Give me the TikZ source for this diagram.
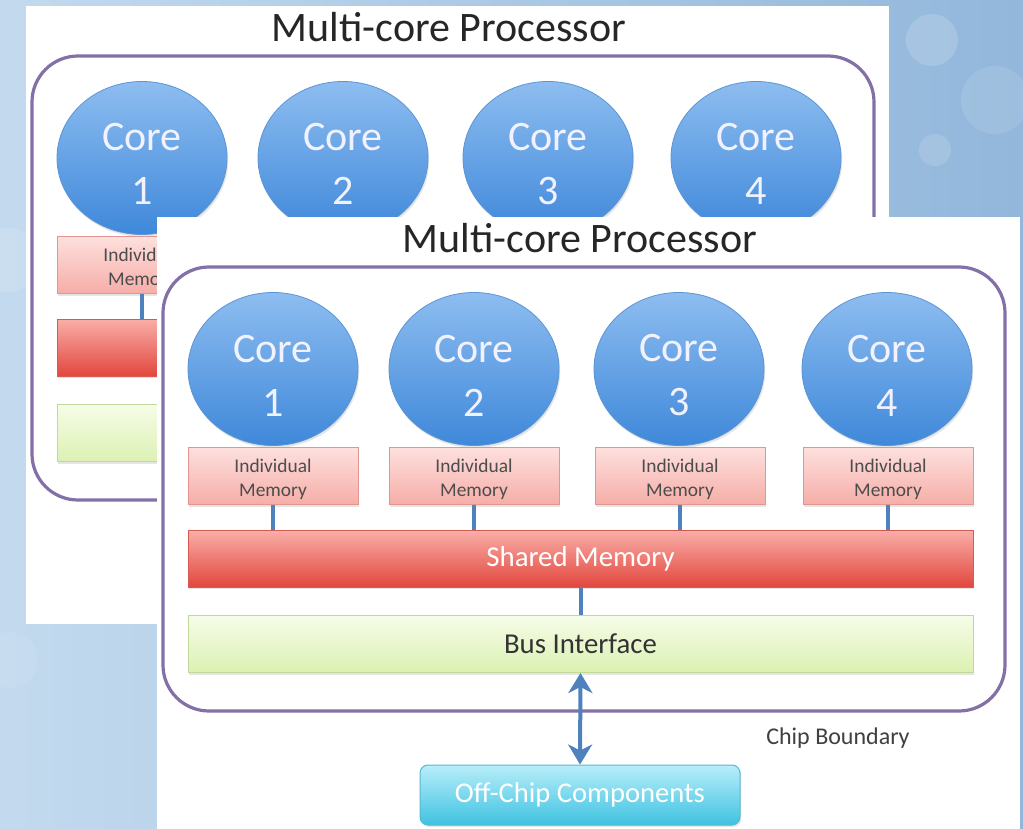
\documentclass[tikz,border=0pt]{standalone}
\usepackage{fontspec}
\setmainfont{Carlito}
\usetikzlibrary{arrows.meta,shapes.geometric,shadows}
\definecolor{skyleft}{HTML}{C3DAEE}
\definecolor{skyright}{HTML}{92B7DB}
\definecolor{coretop}{HTML}{8DBDF0}
\definecolor{corebot}{HTML}{3F88DA}
\definecolor{coreline}{HTML}{5C95D6}
\definecolor{memtop}{HTML}{FDE0DD}
\definecolor{membot}{HTML}{F6ADA8}
\definecolor{memline}{HTML}{E39591}
\definecolor{shtop}{HTML}{F9AFA8}
\definecolor{shbot}{HTML}{E2473E}
\definecolor{shline}{HTML}{D65A52}
\definecolor{bustop}{HTML}{F6FCE8}
\definecolor{busbot}{HTML}{DCF1B2}
\definecolor{busline}{HTML}{C0D99A}
\definecolor{offtop}{HTML}{B8EEF9}
\definecolor{offbot}{HTML}{3FC2E1}
\definecolor{offline}{HTML}{58B8D2}
\definecolor{edgepurple}{HTML}{8470A8}
\definecolor{wireblue}{HTML}{4F81BD}

\begin{document}
\begin{tikzpicture}[x=0.5pt,y=-0.5pt,
  headline/.style={text=black!85,font=\fontsize{21}{25}\selectfont},
  corenode/.style={ellipse,minimum width=85pt,minimum height=76.5pt,inner sep=0pt,
    top color=coretop,bottom color=corebot,draw=coreline,line width=0.4pt,
    drop shadow={shadow xshift=0.6pt,shadow yshift=-1.2pt,opacity=0.2},
    text=white!95!blue,align=center,text height=47pt,font=\fontsize{21}{27}\selectfont},
  memnode/.style={rectangle,minimum width=85pt,minimum height=28.5pt,inner sep=0pt,
    top color=memtop,bottom color=membot,draw=memline,line width=0.5pt,
    drop shadow={shadow xshift=0.6pt,shadow yshift=-1pt,opacity=0.2},
    text=black!70,align=center,text height=22.5pt,font=\fontsize{9.7}{12}\selectfont},
  sharednode/.style={rectangle,minimum width=392.5pt,minimum height=28.5pt,inner sep=0pt,
    top color=shtop,bottom color=shbot,draw=shline,line width=0.5pt,
    drop shadow={shadow xshift=0.6pt,shadow yshift=-1pt,opacity=0.2},
    text=white,font=\fontsize{14.4}{17}\selectfont},
  busnode/.style={rectangle,minimum width=392.5pt,minimum height=28.5pt,inner sep=0pt,
    top color=bustop,bottom color=busbot,draw=busline,line width=0.5pt,
    drop shadow={shadow xshift=0.6pt,shadow yshift=-1pt,opacity=0.2},
    text=black!80,font=\fontsize{14.4}{17}\selectfont},
  offnode/.style={rectangle,rounded corners=4pt,minimum width=160pt,minimum height=30pt,inner sep=0pt,
    top color=offtop,bottom color=offbot,draw=offline,line width=0.5pt,
    drop shadow={shadow xshift=0.6pt,shadow yshift=-1pt,opacity=0.2},
    text=white,font=\fontsize{14.3}{17}\selectfont},
  chipedge/.style={rectangle,rounded corners=23pt,minimum width=421pt,minimum height=222pt,
    draw=edgepurple,line width=1.6pt,inner sep=0pt},
  boundlabel/.style={text=black!75,font=\fontsize{12}{14}\selectfont},
  wire/.style={draw=wireblue,line width=2pt},
  biarrow/.style={wire,{Stealth[length=10pt,width=12pt,inset=3pt]}-{Stealth[length=10pt,width=12pt,inset=3pt]}}]
\useasboundingbox (0,0) rectangle (1023,829);
% backdrop
\shade[left color=skyleft,right color=skyright] (0,0) rectangle (1023,829);
\fill[white,opacity=0.16] (932,40) circle (13pt);
\fill[white,opacity=0.1] (995,100) circle (17pt);
\fill[white,opacity=0.14] (935,150) circle (8pt);
\fill[white,opacity=0.12] (8,260) circle (16pt);
\fill[white,opacity=0.08] (10,660) circle (14pt);

% slide behind (mostly hidden)
\begin{scope}[shift={(-131,-211)},name prefix=back-]
\fill[white] (157,217) rectangle (1020,835);
\node[headline] (heading) at (580,238) {Multi-core Processor};
\node[chipedge] (boundary) at (584,489) {};
\node[corenode] (core1) at (273,369) {Core\\1};
\node[corenode] (core2) at (474,369) {Core\\2};
\node[corenode] (core3) at (679,369) {Core\\3};
\node[corenode] (core4) at (887,369) {Core\\4};
\node[memnode] (mem1) at (273,476) {Individual\\Memory};
\node[sharednode] (shared) at (580.5,558.5) {};
\node[busnode] (bus) at (580.5,644) {};
\draw[wire] (mem1.south) -- (mem1.south |- shared.north);
\end{scope}

% slide in front
\fill[white] (157,217) rectangle (1020,835);
\node[headline] (heading) at (580,238) {Multi-core Processor};
\node[chipedge] (boundary) at (584,489) {};
\node[corenode] (core1) at (273,369) {Core\\1};
\node[corenode] (core2) at (474,369) {Core\\2};
\node[corenode] (core3) at (679,369) {Core\\3};
\node[corenode] (core4) at (887,369) {Core\\4};
\node[memnode] (mem1) at (273,476) {Individual\\Memory};
\node[memnode] (mem2) at (474,476) {Individual\\Memory};
\node[memnode] (mem3) at (680,476) {Individual\\Memory};
\node[memnode] (mem4) at (888,476) {Individual\\Memory};
\node[sharednode] (shared) at (580.5,558.5) {Shared Memory};
\node[busnode] (bus) at (580.5,644) {Bus Interface};
\node[offnode] (offchip) at (580,795) {Off-Chip Components};
\node[boundlabel] (boundtext) at (838,738) {Chip Boundary};
\draw[wire] (mem1.south) -- (mem1.south |- shared.north);
\draw[wire] (mem2.south) -- (mem2.south |- shared.north);
\draw[wire] (mem3.south) -- (mem3.south |- shared.north);
\draw[wire] (mem4.south) -- (mem4.south |- shared.north);
\draw[wire] (shared.south) -- (bus.north);
\draw[biarrow] (bus.south) -- (offchip.north);
\end{tikzpicture}
\end{document}
